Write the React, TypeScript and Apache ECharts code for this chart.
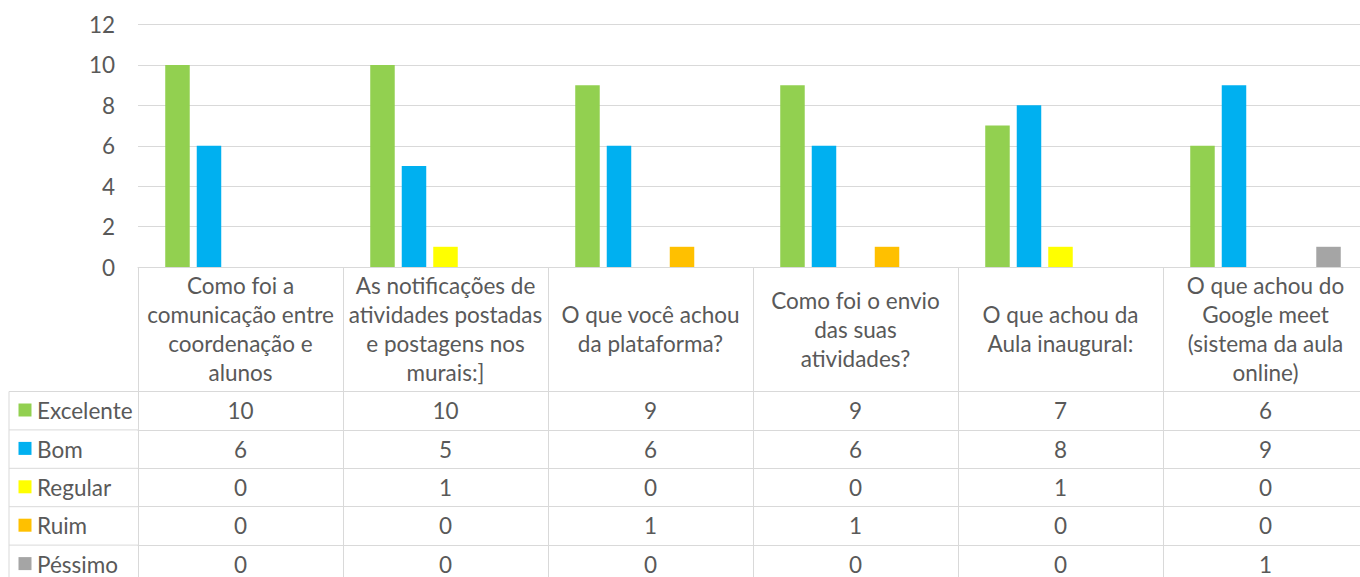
import React, { useEffect, useRef } from "react";
import * as echarts from "echarts";

const categories = [
  "Como foi a\ncomunicação entre\ncoordenação e\nalunos",
  "As notificações de\natividades postadas\ne postagens nos\nmurais:]",
  "O que você achou\nda plataforma?",
  "Como foi o envio\ndas suas\natividades?",
  "O que achou da\nAula inaugural:",
  "O que achou do\nGoogle meet\n(sistema da aula\nonline)",
];
const seriesNames = ["Excelente", "Bom", "Regular", "Ruim", "Péssimo"];
const excelente = [10, 10, 9, 9, 7, 6];
const bom = [6, 5, 6, 6, 8, 9];
const regular = [0, 1, 0, 0, 1, 0];
const ruim = [0, 0, 1, 1, 0, 0];
const pessimo = [0, 0, 0, 0, 0, 1];
const seriesValues = [excelente, bom, regular, ruim, pessimo];
const seriesColors = ["#92D050", "#00B0F0", "#FFFF00", "#FFC000", "#A5A5A5"];
const yMin = 0;
const yMax = 12;
const yInterval = 2;

const FONT = "Lato";
const FS = 22.5;
const TXT = "#595959";
const LINE = "#D9D9D9";

const GRID_LEFT = 138;
const GRID_TOP = 24.5;
const AXIS_Y = 267;
const COL_W = 205;
const HEADER_H = 124.5;
const ROW_H = 38.4;
const TABLE_LEFT = 9;

export default function App() {
  const ref = useRef<HTMLDivElement>(null);
  useEffect(() => {
    if (!ref.current) return;
    const chart = echarts.init(ref.current, null, { renderer: "svg" });
    const rowTop = (i: number) => AXIS_Y + HEADER_H + ROW_H * i;

    const xAxes: any[] = [
      {
        type: "category",
        data: categories,
        position: "bottom",
        axisLine: { show: true, lineStyle: { color: LINE, width: 1 } },
        axisTick: { show: true, interval: 0, length: HEADER_H, lineStyle: { color: LINE } },
        axisLabel: {
          interval: 0,
          margin: HEADER_H / 2,
          verticalAlign: "middle",
          lineHeight: 29,
          fontFamily: FONT,
          fontSize: FS,
          color: TXT,
        },
      },
    ];
    seriesValues.forEach((vals, i) => {
      xAxes.push({
        type: "category",
        data: categories,
        position: "bottom",
        offset: HEADER_H + ROW_H * i,
        axisLine: { show: true, lineStyle: { color: LINE, width: 1 } },
        axisTick: { show: true, interval: 0, length: ROW_H, lineStyle: { color: LINE } },
        axisLabel: {
          interval: 0,
          margin: ROW_H / 2,
          verticalAlign: "middle",
          fontFamily: FONT,
          fontSize: FS,
          color: TXT,
          formatter: (_v: string, idx: number) => String(vals[idx]),
        },
      });
    });

    const graphics: any[] = [];
    for (let i = 0; i <= seriesNames.length; i++) {
      graphics.push({
        type: "line",
        shape: { x1: TABLE_LEFT, y1: rowTop(i), x2: GRID_LEFT, y2: rowTop(i) },
        style: { stroke: LINE, lineWidth: 1 },
        silent: true,
      });
    }
    graphics.push({
      type: "line",
      shape: { x1: TABLE_LEFT, y1: rowTop(0), x2: TABLE_LEFT, y2: rowTop(seriesNames.length) },
      style: { stroke: LINE, lineWidth: 1 },
      silent: true,
    });
    seriesNames.forEach((name, i) => {
      graphics.push({
        type: "rect",
        shape: { x: 18.5, y: rowTop(i) + 12, width: 13, height: 13 },
        style: { fill: seriesColors[i] },
        silent: true,
      });
      graphics.push({
        type: "text",
        x: 37,
        y: rowTop(i) + ROW_H / 2,
        style: {
          text: name,
          fontFamily: FONT,
          fontSize: FS,
          fill: TXT,
          verticalAlign: "middle",
          align: "left",
        },
        silent: true,
      });
    });

    chart.setOption({
      animation: false,
      grid: {
        left: GRID_LEFT,
        top: GRID_TOP,
        width: COL_W * categories.length,
        height: AXIS_Y - GRID_TOP,
        containLabel: false,
        outerBoundsMode: "none",
      },
      xAxis: xAxes,
      yAxis: {
        type: "value",
        min: yMin,
        max: yMax,
        interval: yInterval,
        axisLine: { show: false },
        axisTick: { show: false },
        splitLine: { show: true, lineStyle: { color: LINE, width: 1 } },
        axisLabel: { fontFamily: FONT, fontSize: FS, color: TXT, margin: 23 },
      },
      series: seriesNames.map((name, i) => ({
        name,
        type: "bar",
        xAxisIndex: 0,
        data: seriesValues[i],
        barWidth: 24.5,
        barGap: "28.6%",
        itemStyle: { color: seriesColors[i] },
      })),
      graphic: graphics,
    });
    return () => chart.dispose();
  }, []);
  return (
    <div
      ref={ref}
      style={{ position: "fixed", left: 0, top: 0, width: 1360, height: 577, background: "#fff" }}
    />
  );
}
